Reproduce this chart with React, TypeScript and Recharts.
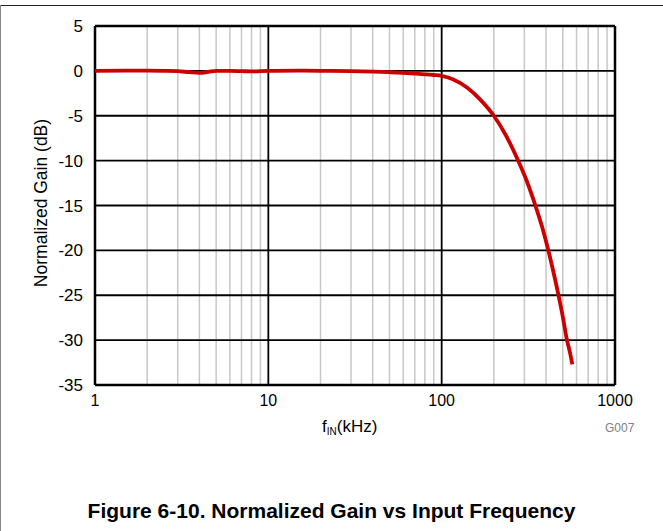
import { LineChart, Line, XAxis, YAxis, ReferenceLine } from 'recharts';

// frequency in kHz, normalized gain in dB
const freqKHz = [
  1, 1.5, 2, 2.5, 3, 3.5, 4, 4.5, 5, 6, 7, 8, 10, 15, 20, 30, 40, 50, 60, 70, 80, 90, 100,
  116, 140, 167, 200, 235, 274, 310, 347, 380, 412, 440, 471, 500, 527, 550, 567,
];
const gainDb = [
  0, 0.03, 0.02, 0, -0.03, -0.15, -0.22, -0.12, 0, 0, -0.03, -0.06, 0, 0.02, 0, -0.03, -0.08, -0.15, -0.22, -0.3, -0.38, -0.46, -0.55,
  -0.93, -1.86, -3.2, -5.0, -7.2, -9.85, -12.3, -14.98, -17.4, -19.96, -22.3, -24.9, -27.4, -29.9, -31.4, -32.7,
];

const xTicks = [1, 10, 100, 1000];
const yTicks = [-35, -30, -25, -20, -15, -10, -5, 0, 5];
const minorX = [
  2, 3, 4, 5, 6, 7, 8, 9,
  20, 30, 40, 50, 60, 70, 80, 90,
  200, 300, 400, 500, 600, 700, 800, 900,
];

const data = freqKHz.map((f, i) => ({ f, gain: gainDb[i] }));

const font = 'Arial, "Liberation Sans", Helvetica, sans-serif';

export default function App() {
  return (
    <div style={{ position: 'fixed', left: 0, top: 0, width: 663, height: 531, background: '#fff', fontFamily: font }}>
      {/* page frame */}
      <div style={{ position: 'absolute', left: 0, top: 5, width: 663, height: 1, background: '#222' }} />
      <div style={{ position: 'absolute', left: 0, top: 5, width: 1, height: 526, background: '#888' }} />

      <LineChart width={663} height={531} data={data} margin={{ top: 26, right: 48, bottom: 116, left: 0 }}>
        <XAxis
          dataKey="f"
          type="number"
          scale="log"
          domain={[1, 1000]}
          ticks={xTicks}
          allowDataOverflow
          axisLine={false}
          tickLine={false}
          tickSize={0}
          tickMargin={10}
          height={30}
          tick={{ fill: '#000', fontSize: 16, fontFamily: font }}
        />
        <YAxis
          type="number"
          domain={[-35, 5]}
          ticks={yTicks}
          allowDataOverflow
          axisLine={false}
          tickLine={false}
          tickSize={0}
          tickMargin={12}
          width={95}
          tick={{ fill: '#000', fontSize: 17, fontFamily: font }}
        />
        {minorX.map((v) => (
          <ReferenceLine key={`mx${v}`} x={v} stroke="#c8c8c8" strokeWidth={1.5} />
        ))}
        {yTicks.map((v) => (
          <ReferenceLine key={`y${v}`} y={v} stroke="#000" strokeWidth={v === 5 || v === -35 ? 2.5 : 1.8} />
        ))}
        {xTicks.map((v) => (
          <ReferenceLine key={`x${v}`} x={v} stroke="#000" strokeWidth={v === 1 || v === 1000 ? 2.5 : 1.8} />
        ))}
        <Line
          type="monotone"
          dataKey="gain"
          stroke="#cc0000"
          strokeWidth={3.8}
          dot={false}
          isAnimationActive={false}
        />
      </LineChart>

      <div
        style={{
          position: 'absolute',
          left: 41,
          top: 203,
          transform: 'translate(-50%, -50%) rotate(-90deg)',
          whiteSpace: 'nowrap',
          fontSize: 17.5,
          color: '#000',
        }}
      >
        Normalized Gain (dB)
      </div>
      <div style={{ position: 'absolute', left: 322, top: 417, fontSize: 17, color: '#000', whiteSpace: 'nowrap' }}>
        f<sub style={{ fontSize: 10, verticalAlign: -3 }}>IN</sub>(kHz)
      </div>
      <div style={{ position: 'absolute', left: 605, top: 421, fontSize: 12, color: '#808080' }}>G007</div>
      <div
        style={{
          position: 'absolute',
          left: 0,
          width: 663,
          top: 499,
          textAlign: 'center',
          fontSize: 21,
          fontWeight: 'bold',
          color: '#000',
        }}
      >
        Figure 6-10. Normalized Gain vs Input Frequency
      </div>
    </div>
  );
}
